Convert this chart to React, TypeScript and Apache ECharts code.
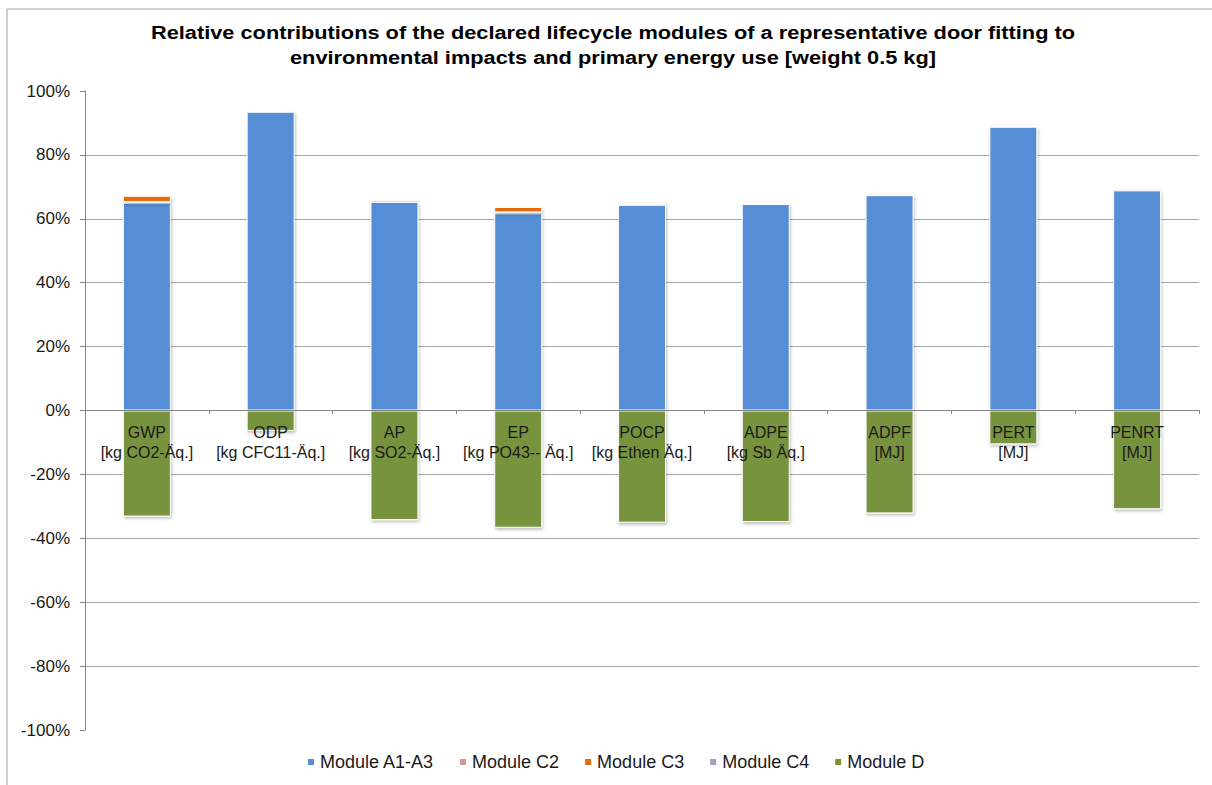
import React, { useEffect, useRef } from "react";
import * as echarts from "echarts";

const categories = [
  "GWP\n[kg CO2-Äq.]",
  "ODP\n[kg CFC11-Äq.]",
  "AP\n[kg SO2-Äq.]",
  "EP\n[kg PO43-- Äq.]",
  "POCP\n[kg Ethen Äq.]",
  "ADPE\n[kg Sb Äq.]",
  "ADPF\n[MJ]",
  "PERT\n[MJ]",
  "PENRT\n[MJ]",
];
const moduleA1A3 = [65.0, 93.5, 65.3, 61.7, 64.3, 64.6, 67.4, 88.8, 68.9];
const moduleC2 = [0.2, 0.1, 0.3, 0.3, 0.6, 0.3, 0.2, 0.2, 0.2];
const moduleC3 = [2.0, 0.1, 0.6, 1.7, 0.4, 0.1, 0.1, 0.1, 0.1];
const moduleC4 = [0.2, 0.4, 0.1, 0.1, 0.2, 0.5, 0.5, 0.5, 0.5];
const moduleD = [-33.2, -6.4, -34.3, -36.7, -35.1, -34.9, -32.2, -10.6, -30.9];

const titleLines = [
  "Relative contributions of the declared lifecycle modules of a representative door fitting to",
  "environmental impacts and primary energy use [weight 0.5 kg]",
];

const FONT = "Liberation Sans, Arial, sans-serif";

export default function App() {
  const ref = useRef<HTMLDivElement>(null);
  useEffect(() => {
    document.body.style.margin = "0";
    const chart = echarts.init(ref.current!, null, { renderer: "svg" });
    const itemStyle = (color: string) => ({
      color,
      borderColor: "#ffffff",
      borderWidth: 1,
      shadowBlur: 3,
      shadowColor: "rgba(0,0,0,0.25)",
      shadowOffsetX: 1,
      shadowOffsetY: 2,
    });
    const mk = (name: string, data: number[], color: string) => ({
      name,
      type: "bar",
      stack: "all",
      data,
      barWidth: 48,
      itemStyle: itemStyle(color),
    });
    const titleStyle = {
      fontFamily: FONT,
      fontSize: 18,
      fontWeight: "bold",
      fill: "#000000",
      align: "center",
      verticalAlign: "middle",
    };
    chart.setOption({
      animation: false,
      backgroundColor: "#ffffff",
      textStyle: { fontFamily: FONT },
      legend: {
        bottom: 9,
        left: 301,
        icon: "rect",
        itemWidth: 8,
        itemHeight: 8,
        itemGap: 24,
        textStyle: { fontFamily: FONT, fontSize: 18, color: "#1a1a1a" },
        data: ["Module A1-A3", "Module C2", "Module C3", "Module C4", "Module D"],
      },
      grid: { left: 85, right: 13, top: 91, bottom: 55, containLabel: false },
      xAxis: {
        type: "category",
        data: categories,
        z: 10,
        position: "bottom",
        offset: -320,
        axisLine: { onZero: false, lineStyle: { color: "#868686", width: 1 } },
        axisTick: { show: true, length: 4, lineStyle: { color: "#868686" } },
        axisLabel: {
          interval: 0,
          fontFamily: FONT,
          fontSize: 16,
          lineHeight: 20,
          margin: 12,
          color: "#1a1a1a",
        },
        splitLine: { show: false },
      },
      yAxis: {
        type: "value",
        min: -100,
        max: 100,
        interval: 20,
        axisLine: { show: true, lineStyle: { color: "#868686" } },
        axisTick: { show: true, length: 5, lineStyle: { color: "#868686" } },
        axisLabel: {
          formatter: "{value}%",
          fontFamily: FONT,
          fontSize: 17,
          color: "#1a1a1a",
          margin: 15,
        },
        splitLine: {
          show: true,
          showMinLine: false,
          showMaxLine: false,
          lineStyle: { color: "#a6a6a6", width: 1 },
        },
      },
      graphic: [
        { type: "line", shape: { x1: 7, y1: 9, x2: 1212, y2: 9 }, style: { stroke: "#a0a0a0", lineWidth: 1 } },
        { type: "line", shape: { x1: 7, y1: 9, x2: 7, y2: 785 }, style: { stroke: "#a0a0a0", lineWidth: 1 } },
        { type: "text", x: 613, y: 33, scaleX: 1.21, style: { ...titleStyle, text: titleLines[0] } },
        { type: "text", x: 613, y: 58, scaleX: 1.21, style: { ...titleStyle, text: titleLines[1] } },
      ],
      series: [
        mk("Module A1-A3", moduleA1A3, "#558ed5"),
        mk("Module C2", moduleC2, "#d19a98"),
        mk("Module C3", moduleC3, "#e46c0a"),
        mk("Module C4", moduleC4, "#a99bc1"),
        mk("Module D", moduleD, "#77933c"),
      ],
    });
    return () => chart.dispose();
  }, []);
  return <div ref={ref} style={{ width: 1212, height: 785 }} />;
}
